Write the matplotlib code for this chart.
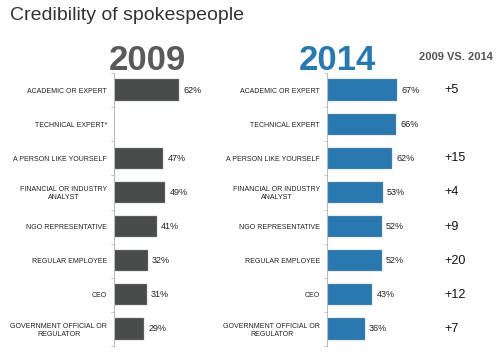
import numpy as np
import matplotlib
matplotlib.use("Agg")
import matplotlib.pyplot as plt

plt.rcParams['font.family'] = ['Liberation Sans', 'DejaVu Sans']

labels_09 = ['ACADEMIC OR EXPERT', 'TECHNICAL EXPERT*', 'A PERSON LIKE YOURSELF',
             'FINANCIAL OR INDUSTRY\nANALYST', 'NGO REPRESENTATIVE', 'REGULAR EMPLOYEE',
             'CEO', 'GOVERNMENT OFFICIAL OR\nREGULATOR']
labels_14 = ['ACADEMIC OR EXPERT', 'TECHNICAL EXPERT', 'A PERSON LIKE YOURSELF',
             'FINANCIAL OR INDUSTRY\nANALYST', 'NGO REPRESENTATIVE', 'REGULAR EMPLOYEE',
             'CEO', 'GOVERNMENT OFFICIAL OR\nREGULATOR']
vals_09 = [62, None, 47, 49, 41, 32, 31, 29]
vals_14 = [67, 66, 62, 53, 52, 52, 43, 36]
diffs = ['+5', '', '+15', '+4', '+9', '+20', '+12', '+7']

GRAY = '#4a4c4b'
BLUE = '#2a78b0'

W, H = 500, 356
fig = plt.figure(figsize=(W / 100, H / 100), dpi=100)

def px_axes(x0, y0, x1, y1):
    return fig.add_axes([x0 / W, 1 - y1 / H, (x1 - x0) / W, (y1 - y0) / H])

ax1 = px_axes(114, 73, 219, 346)
ax2 = px_axes(327, 73, 432, 346)

y = np.arange(len(labels_09))

def style(ax, labels, vals, color):
    v = [0 if a is None else a for a in vals]
    ax.barh(y, v, height=0.62, color=color, edgecolor='#9a9a9a', linewidth=0.3)
    for i, a in enumerate(vals):
        if a is not None:
            ax.text(a + 4, i, f'{a}%', va='center', ha='left', fontsize=6.5, color='#222222')
    ax.set_xlim(0, 100)
    ax.set_ylim(7.5, -0.5)
    for s in ['top', 'right', 'bottom']:
        ax.spines[s].set_visible(False)
    ax.spines['left'].set_color('#bbbbbb')
    ax.spines['left'].set_linewidth(0.8)
    ax.set_xticks([])
    ax.set_yticks(y)
    ax.set_yticklabels(labels, fontsize=5, color='#222222', multialignment='center')
    ax.tick_params(axis='y', which='major', length=0, pad=5)
    ax.set_yticks(np.arange(-0.5, 8, 1), minor=True)
    ax.tick_params(axis='y', which='minor', length=2.5, width=0.6, color='#bbbbbb')

style(ax1, labels_09, vals_09, GRAY)
style(ax2, labels_14, vals_14, BLUE)

for i, d in enumerate(diffs):
    if d:
        ax2.text(112, i, d, va='center', ha='left', fontsize=9, color='#111111', clip_on=False)

fig.text(10 / W, 1 - 20 / H, 'Credibility of spokespeople', fontsize=14, color='#333333',
         ha='left', va='baseline')
fig.text(147 / W, 1 - 70 / H, '2009', fontsize=25, fontweight='bold', color='#5a5a5a',
         ha='center', va='baseline')
fig.text(337 / W, 1 - 70 / H, '2014', fontsize=25, fontweight='bold', color=BLUE,
         ha='center', va='baseline')
fig.text(456 / W, 1 - 60 / H, '2009 VS. 2014', fontsize=8, fontweight='bold', color='#555555',
         ha='center', va='baseline')

fig.savefig('out.png', dpi=100)
